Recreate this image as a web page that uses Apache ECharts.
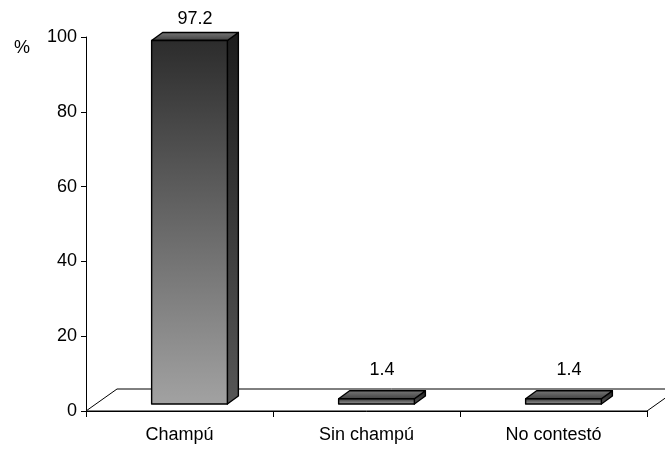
<!DOCTYPE html>
<html>
<head>
<meta charset="utf-8">
<script src="https://cdn.jsdelivr.net/npm/echarts@6/dist/echarts.min.js"></script>
<style>html,body{margin:0;padding:0;background:#fff}#c{width:665px;height:449px}</style>
</head>
<body>
<div id="c"></div>
<script>
const categories = ['Champú', 'Sin champú', 'No contestó'];
const values = [97.2, 1.4, 1.4];
const yMin = 0, yMax = 100, yInterval = 20;
const unitLabel = '%';

const FONT = 'Liberation Sans, Arial, sans-serif';
const FS = 18;
const chart = echarts.init(document.getElementById('c'));

// 3D geometry (pixel styling constants)
const floorDX = 31, floorDY = -22;   // floor depth
const planeDX = 10, planeDY = -7;    // offset of bar front plane
const barDX = 11, barDY = -8;        // bar depth

function floorRender(params, api) {
  const cs = params.coordSys;
  const xL = cs.x, xR = cs.x + cs.width, yb = cs.y + cs.height;
  return {
    type: 'polygon',
    shape: { points: [[xL, yb], [xL + floorDX, yb + floorDY], [xR + floorDX, yb + floorDY], [xR, yb]] },
    style: { fill: '#fff', stroke: '#000', lineWidth: 1 },
    silent: true
  };
}

function barRender(params, api) {
  const cat = api.value(0), v = api.value(1);
  const top = api.coord([cat, v]);
  const base = api.coord([cat, 0]);
  const bw = api.size([1, 0])[0] * 0.405;
  const x0 = top[0] - bw / 2 + planeDX, x1 = x0 + bw;
  const yT = top[1] + planeDY, yB = base[1] + planeDY;
  const stroke = { stroke: '#000', lineWidth: 1.4, lineJoin: 'round' };
  return {
    type: 'group',
    children: [
      { type: 'polygon',
        shape: { points: [[x1, yT], [x1 + barDX, yT + barDY], [x1 + barDX, yB + barDY], [x1, yB]] },
        style: Object.assign({ fill: new echarts.graphic.LinearGradient(0, 0, 0, 1, [
          { offset: 0, color: '#1c1c1c' }, { offset: 1, color: '#565656' }]) }, stroke) },
      { type: 'polygon',
        shape: { points: [[x0, yT], [x0 + barDX, yT + barDY], [x1 + barDX, yT + barDY], [x1, yT]] },
        style: Object.assign({ fill: new echarts.graphic.LinearGradient(0, 0, 0, 1, [
          { offset: 0, color: '#7a7a7a' }, { offset: 1, color: '#3e3e3e' }]) }, stroke) },
      { type: 'rect',
        shape: { x: x0, y: yT, width: bw, height: yB - yT },
        style: Object.assign({ fill: new echarts.graphic.LinearGradient(0, 0, 0, 1, [
          { offset: 0, color: '#2c2c2c' }, { offset: 1, color: '#a2a2a2' }]) }, stroke) },
      { type: 'text',
        x: (x0 + x1) / 2 + barDX / 2,
        y: yT + barDY - (v < 10 ? 21 : 13),
        style: { text: String(v), fill: '#000', font: FS + 'px ' + FONT, align: 'center', verticalAlign: 'middle' } }
    ]
  };
}

chart.setOption({
  animation: false,
  backgroundColor: '#fff',
  grid: { left: 86, right: 18, top: 37, bottom: 38 },
  xAxis: {
    type: 'category',
    data: categories,
    boundaryGap: true,
    axisLine: { lineStyle: { color: '#000', width: 1 } },
    axisTick: { show: true, length: 6, lineStyle: { color: '#000' } },
    axisLabel: { color: '#000', fontSize: FS, fontFamily: FONT, margin: 15 },
    z: 5
  },
  yAxis: {
    type: 'value',
    min: yMin, max: yMax, interval: yInterval,
    axisLine: { show: true, lineStyle: { color: '#000', width: 1 } },
    axisTick: { show: true, length: 5, lineStyle: { color: '#000' } },
    axisLabel: { color: '#000', fontSize: FS, fontFamily: FONT, margin: 9 },
    splitLine: { show: false }
  },
  graphic: [{
    type: 'text', x: 14, y: 48,
    style: { text: unitLabel, fill: '#000', font: FS + 'px ' + FONT, verticalAlign: 'middle' }
  }],
  series: [
    { type: 'custom', renderItem: floorRender, data: [[0, 0]], z: 1, silent: true, clip: false },
    { type: 'custom', renderItem: barRender, data: values.map((v, i) => [i, v]), z: 3, clip: false }
  ]
});
</script>
</body>
</html>
